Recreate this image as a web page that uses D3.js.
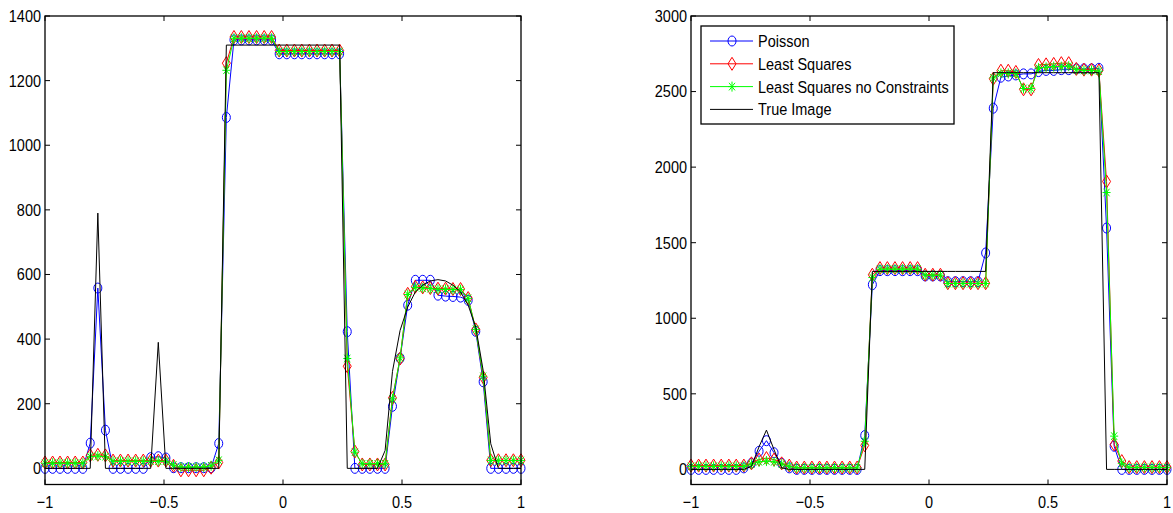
<!DOCTYPE html>
<html>
<head>
<meta charset="utf-8">
<script src="https://cdn.jsdelivr.net/npm/d3@7"></script>
<style>
  body { margin: 0; background: #fff; }
  text { font-family: 'Liberation Sans', Arial, sans-serif; font-size: 14.5px; fill: #000; }
</style>
</head>
<body>
<svg id="chart" width="1173" height="513"></svg>
<script>
// sample positions (64 points between -1 and 1)
const xs = [-1, -0.968, -0.937, -0.905, -0.873, -0.841, -0.810, -0.778, -0.746, -0.714,
  -0.683, -0.651, -0.619, -0.587, -0.556, -0.524, -0.492, -0.460, -0.429, -0.397,
  -0.365, -0.333, -0.302, -0.270, -0.238, -0.206, -0.175, -0.143, -0.111, -0.079,
  -0.048, -0.016, 0.016, 0.048, 0.079, 0.111, 0.143, 0.175, 0.206, 0.238,
  0.270, 0.302, 0.333, 0.365, 0.397, 0.429, 0.460, 0.492, 0.524, 0.556,
  0.587, 0.619, 0.651, 0.683, 0.714, 0.746, 0.778, 0.810, 0.841, 0.873,
  0.905, 0.937, 0.968, 1]

// left panel
const leftPoisson = [0, 0, 0, 0, 0, 0, 78, 558, 118, 0,
  0, 0, 0, 0, 33, 36, 32, 2, 2, 2,
  2, 2, 2, 77, 1086, 1326, 1326, 1326, 1326, 1326,
  1326, 1283, 1283, 1283, 1283, 1283, 1283, 1283, 1283, 1283,
  423, 0, 0, 0, 0, 0, 192, 341, 505, 582,
  582, 582, 536, 533, 532, 530, 520, 424, 268, 0,
  0, 0, 0, 0]
const leftLsq = [18, 18, 18, 18, 18, 18, 40, 42, 40, 24,
  24, 24, 24, 24, 24, 24, 24, 8, -6, -6,
  -6, -6, 2, 18, 1254, 1335, 1335, 1335, 1335, 1335,
  1335, 1293, 1293, 1293, 1293, 1293, 1293, 1293, 1293, 1293,
  316, 52, 12, 12, 12, 12, 218, 340, 540, 562,
  560, 558, 556, 556, 555, 555, 527, 430, 282, 25,
  25, 25, 25, 25]
const leftLsqFree = [16, 16, 16, 16, 16, 16, 36, 38, 36, 22,
  22, 22, 22, 22, 22, 22, 22, 10, 4, 4,
  4, 4, 8, 25, 1232, 1331, 1331, 1331, 1331, 1331,
  1331, 1290, 1290, 1290, 1290, 1290, 1290, 1290, 1290, 1290,
  340, 50, 14, 14, 14, 14, 215, 342, 538, 560,
  558, 556, 554, 554, 553, 553, 526, 430, 285, 24,
  24, 24, 24, 24]
const leftTrue = [0, 0, 0, 0, 0, 0, 0, 790, 0, 0,
  0, 0, 0, 0, 0, 390, 0, 0, 0, 0,
  0, 0, 0, 0, 1310, 1310, 1310, 1310, 1310, 1310,
  1310, 1310, 1310, 1310, 1310, 1310, 1310, 1310, 1310, 1310,
  0, 0, 0, 0, 0, 55, 300, 427, 499, 546,
  567, 580, 584, 580, 567, 546, 505, 437, 303, 76,
  0, 0, 0, 0]

// right panel
const rightPoisson = [0, 0, 0, 0, 0, 0, 0, 10, 40, 120,
  190, 110, 40, 10, 0, 0, 0, 0, 0, 0,
  0, 0, 0, 224, 1222, 1315, 1315, 1315, 1315, 1315,
  1315, 1280, 1280, 1280, 1242, 1242, 1242, 1242, 1242, 1432,
  2390, 2595, 2603, 2610, 2617, 2617, 2632, 2640, 2640, 2645,
  2645, 2650, 2650, 2650, 2654, 1597, 153, 0, 0, 0,
  0, 0, 0, 0]
const rightLsq = [25, 25, 25, 25, 25, 25, 25, 25, 40, 65,
  75, 65, 40, 25, 12, 12, 12, 12, 12, 12,
  12, 12, 12, 159, 1288, 1332, 1332, 1332, 1332, 1332,
  1332, 1288, 1288, 1288, 1232, 1232, 1232, 1232, 1232, 1232,
  2585, 2638, 2638, 2630, 2515, 2515, 2676, 2680, 2683, 2688,
  2688, 2650, 2645, 2645, 2640, 1905, 165, 55, 15, 15,
  15, 15, 15, 15]
const rightLsqFree = [20, 20, 20, 20, 20, 20, 20, 20, 35, 50,
  55, 50, 35, 20, 10, 10, 10, 10, 10, 10,
  10, 10, 10, 186, 1270, 1325, 1325, 1325, 1325, 1325,
  1325, 1285, 1285, 1285, 1230, 1230, 1230, 1230, 1230, 1230,
  2590, 2620, 2620, 2620, 2520, 2520, 2655, 2660, 2665, 2665,
  2668, 2645, 2640, 2640, 2635, 1832, 220, 40, 12, 12,
  12, 12, 12, 12]
const rightTrue = [0, 0, 0, 0, 0, 0, 0, 0, 20, 150,
  260, 130, 10, 0, 0, 0, 0, 0, 0, 0,
  0, 0, 0, 0, 1310, 1310, 1310, 1310, 1310, 1310,
  1310, 1310, 1310, 1310, 1310, 1310, 1310, 1310, 1310, 1310,
  2625, 2625, 2625, 2625, 2625, 2625, 2625, 2625, 2625, 2625,
  2625, 2625, 2625, 2625, 2625, 0, 0, 0, 0, 0,
  0, 0, 0, 0]

const xTicks = [-1, -0.5, 0, 0.5, 1]
const leftYTicks = [0, 200, 400, 600, 800, 1000, 1200, 1400]
const rightYTicks = [0, 500, 1000, 1500, 2000, 2500, 3000]
const legendNames = ['Poisson', 'Least Squares', 'Least Squares no Constraints', 'True Image']

const styles = [
  { color: '#0000ff', marker: 'circle' },
  { color: '#ff0000', marker: 'diamond' },
  { color: '#00ff00', marker: 'star' },
  { color: '#000000', marker: null }
]

const svg = d3.select('#chart')
const fmt = v => String(v).replace('-', '\u2212')
const stretch = 1.18

function drawMarker (g, type, color) {
  if (type === 'circle') {
    g.append('ellipse')
      .attr('rx', 4).attr('ry', 5)
      .attr('fill', 'none').attr('stroke', color).attr('stroke-width', 1)
  } else {
    const d = type === 'diamond'
      ? 'M0,-6.5L4,0L0,6.5L-4,0Z'
      : 'M-4,0H4M0,-5V5M-3,-3.8L3,3.8M-3,3.8L3,-3.8'
    g.append('path')
      .attr('d', d)
      .attr('fill', 'none').attr('stroke', color).attr('stroke-width', 1)
  }
}

function drawPanel (left, yDomain, yTicks, series) {
  const x = d3.scaleLinear().domain([-1, 1]).range([left, left + 476])
  const y = d3.scaleLinear().domain(yDomain).range([484.5, 16])
  const g = svg.append('g')

  const line = d3.line()
    .x((d, i) => x(xs[i]))
    .y(d => y(d))

  series.forEach((values, s) => {
    const st = styles[s]
    g.append('path')
      .datum(values)
      .attr('d', line)
      .attr('fill', 'none')
      .attr('stroke', st.color)
      .attr('stroke-width', 1)
    if (st.marker) {
      g.selectAll('.m' + s)
        .data(values)
        .enter()
        .append('g')
        .attr('class', 'm' + s)
        .attr('transform', (d, i) => 'translate(' + x(xs[i]) + ',' + y(d) + ')')
        .each(function () { drawMarker(d3.select(this), st.marker, st.color) })
    }
  })

  // box and inward ticks
  const x0 = x(-1), x1 = x(1), y0 = y(yDomain[0]), y1 = y(yDomain[1])
  g.append('rect')
    .attr('x', x0).attr('y', y1)
    .attr('width', x1 - x0).attr('height', y0 - y1)
    .attr('fill', 'none').attr('stroke', '#000').attr('stroke-width', 1.3)

  xTicks.forEach(t => {
    g.append('line').attr('x1', x(t)).attr('x2', x(t)).attr('y1', y0).attr('y2', y0 - 5).attr('stroke', '#000')
    g.append('line').attr('x1', x(t)).attr('x2', x(t)).attr('y1', y1).attr('y2', y1 + 5).attr('stroke', '#000')
    g.append('text')
      .attr('transform', 'translate(' + x(t) + ',' + 502 + ') scale(1,' + stretch + ')')
      .attr('text-anchor', 'middle')
      .attr('dominant-baseline', 'central')
      .text(fmt(t))
  })
  yTicks.forEach(t => {
    g.append('line').attr('x1', x0).attr('x2', x0 + 5).attr('y1', y(t)).attr('y2', y(t)).attr('stroke', '#000')
    g.append('line').attr('x1', x1).attr('x2', x1 - 5).attr('y1', y(t)).attr('y2', y(t)).attr('stroke', '#000')
    g.append('text')
      .attr('transform', 'translate(' + (x0 - 4) + ',' + y(t) + ') scale(1,' + stretch + ')')
      .attr('text-anchor', 'end')
      .attr('dominant-baseline', 'central')
      .text(fmt(t))
  })
}

drawPanel(45, [-50, 1400], leftYTicks, [leftPoisson, leftLsq, leftLsqFree, leftTrue])
drawPanel(691, [-100, 3000], rightYTicks, [rightPoisson, rightLsq, rightLsqFree, rightTrue])

// legend
const legend = svg.append('g')
legend.append('rect')
  .attr('x', 701).attr('y', 26)
  .attr('width', 253).attr('height', 98)
  .attr('fill', '#fff').attr('stroke', '#000').attr('stroke-width', 1.3)

legendNames.forEach((name, i) => {
  const cy = 41 + i * 22.8
  const st = styles[i]
  legend.append('line')
    .attr('x1', 710).attr('x2', 753).attr('y1', cy).attr('y2', cy)
    .attr('stroke', st.color).attr('stroke-width', 1)
  if (st.marker) {
    const m = legend.append('g').attr('transform', 'translate(732,' + cy + ')')
    drawMarker(m, st.marker, st.color)
  }
  legend.append('text')
    .attr('transform', 'translate(758,' + cy + ') scale(1,' + stretch + ')')
    .attr('dominant-baseline', 'central')
    .text(name)
})
</script>
</body>
</html>
